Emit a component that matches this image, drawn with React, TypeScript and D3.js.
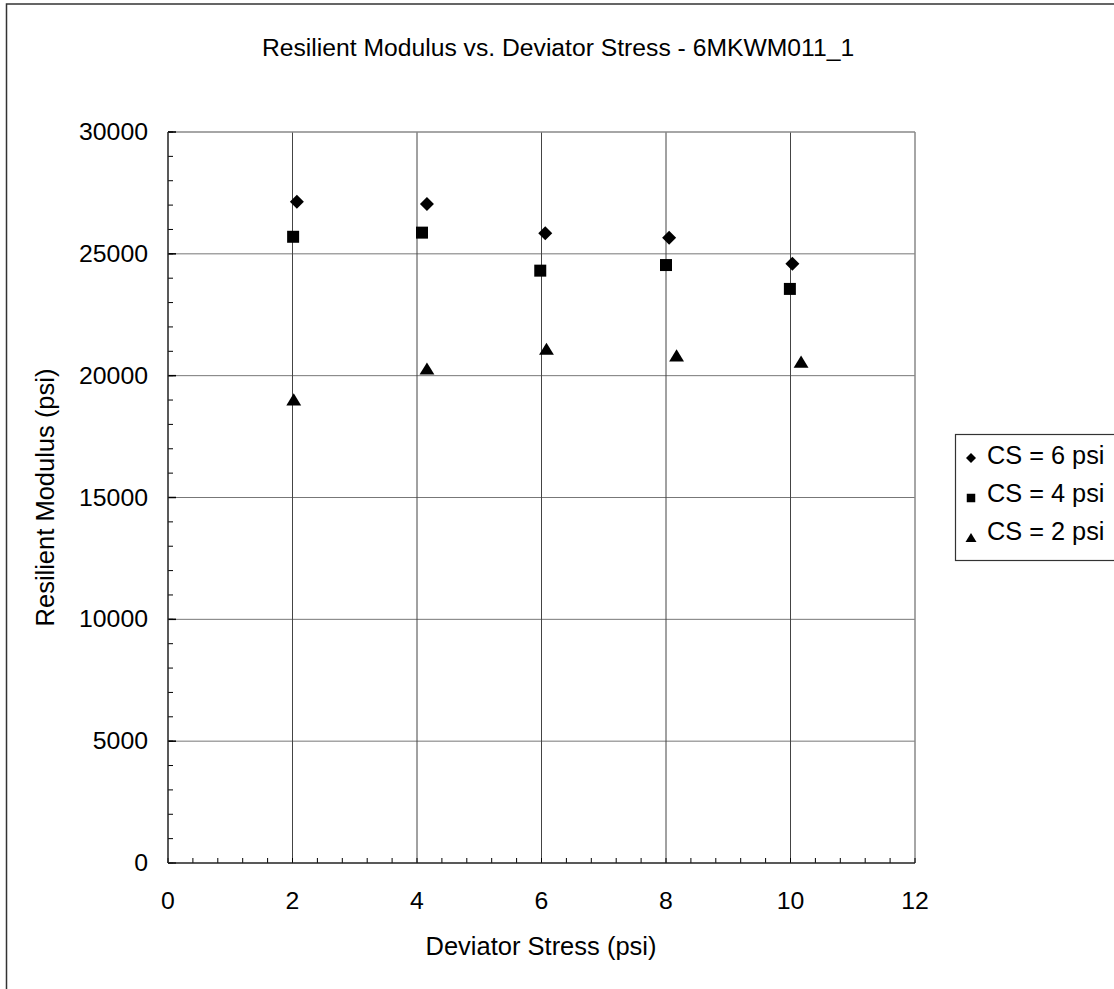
import React from "react";
import * as d3 from "d3";

const title = "Resilient Modulus vs. Deviator Stress - 6MKWM011_1";
const xLabel = "Deviator Stress (psi)";
const yLabel = "Resilient Modulus (psi)";
const xTicks = [0, 2, 4, 6, 8, 10, 12];
const yTicks = [0, 5000, 10000, 15000, 20000, 25000, 30000];

const seriesNames = ["CS = 6 psi", "CS = 4 psi", "CS = 2 psi"];
const cs6X = [2.07, 4.16, 6.06, 8.05, 10.03];
const cs6Y = [27140, 27045, 25840, 25660, 24595];
const cs4X = [2.01, 4.08, 5.98, 8.0, 9.99];
const cs4Y = [25700, 25870, 24310, 24540, 23560];
const cs2X = [2.02, 4.16, 6.08, 8.17, 10.17];
const cs2Y = [19000, 20270, 21080, 20810, 20550];

const W = 1114;
const H = 989;
const plot = { left: 168, right: 915, top: 132, bottom: 863 };
const FONT = "'Liberation Sans', Arial, sans-serif";

function markerPath(kind: string, size: number): string {
  const s = size / 2;
  if (kind === "diamond") return `M0,${-s}L${s},0L0,${s}L${-s},0Z`;
  if (kind === "square") return `M${-s},${-s}H${s}V${s}H${-s}Z`;
  const h = size * 0.9;
  return `M0,${-h * 0.55}L${s * 1.1},${h * 0.45}L${-s * 1.1},${h * 0.45}Z`;
}

export default function App() {
  const x = d3.scaleLinear().domain([0, 12]).range([plot.left, plot.right]);
  const y = d3.scaleLinear().domain([0, 30000]).range([plot.bottom, plot.top]);

  const series = [
    { name: seriesNames[0], xs: cs6X, ys: cs6Y, kind: "diamond", size: 14, lsize: 10 },
    { name: seriesNames[1], xs: cs4X, ys: cs4Y, kind: "square", size: 12, lsize: 8.5 },
    { name: seriesNames[2], xs: cs2X, ys: cs2Y, kind: "triangle", size: 13.5, lsize: 10 },
  ];

  const xMinor = d3.range(0, 12.001, 0.4);
  const yMinor = d3.range(0, 30001, 1000);

  return (
    <svg width={W} height={H} style={{ position: "absolute", left: 0, top: 0, background: "#fff" }}
      fontFamily={FONT}>
      <rect x={6.5} y={4} width={W + 20} height={H + 20} fill="#fff" stroke="#333" strokeWidth={1.5} />
      <text x={558} y={56} textAnchor="middle" fontSize={24.7} fill="#000">{title}</text>

      {/* grid */}
      {yTicks.filter((t) => t > 0 && t < 30000).map((t) => (
        <line key={"gy" + t} x1={plot.left} x2={plot.right} y1={y(t)} y2={y(t)} stroke="#777" strokeWidth={1} />
      ))}
      {xTicks.filter((t) => t > 0 && t < 12).map((t) => (
        <line key={"gx" + t} x1={x(t)} x2={x(t)} y1={plot.top} y2={plot.bottom} stroke="#444" strokeWidth={1} />
      ))}
      {/* top/right border */}
      <line x1={plot.left} x2={plot.right} y1={plot.top} y2={plot.top} stroke="#888" strokeWidth={1.5} />
      <line x1={plot.right} x2={plot.right} y1={plot.top} y2={plot.bottom} stroke="#888" strokeWidth={1.5} />

      {/* minor ticks */}
      {xMinor.map((t, i) => (
        <line key={"mx" + i} x1={x(t)} x2={x(t)} y1={plot.bottom} y2={plot.bottom - 5} stroke="#000" strokeWidth={1} />
      ))}
      {yMinor.map((t, i) => (
        <line key={"my" + i} x1={plot.left} x2={plot.left + 5} y1={y(t)} y2={y(t)} stroke="#000" strokeWidth={1} />
      ))}
      {yTicks.map((t) => (
        <line key={"My" + t} x1={plot.left} x2={plot.left + 8} y1={y(t)} y2={y(t)} stroke="#000" strokeWidth={1.5} />
      ))}
      {/* axes */}
      <line x1={plot.left} x2={plot.right} y1={plot.bottom} y2={plot.bottom} stroke="#222" strokeWidth={1.5} />
      <line x1={plot.left} x2={plot.left} y1={plot.top} y2={plot.bottom} stroke="#222" strokeWidth={1.5} />

      {/* tick labels */}
      {yTicks.map((t) => (
        <text key={"ly" + t} x={148} y={y(t) + 8} textAnchor="end" fontSize={24.8} fill="#000">{t}</text>
      ))}
      {xTicks.map((t) => (
        <text key={"lx" + t} x={x(t)} y={909} textAnchor="middle" fontSize={24.8} fill="#000">{t}</text>
      ))}

      <text x={541} y={955} textAnchor="middle" fontSize={25.5} fill="#000">{xLabel}</text>
      <text transform={`translate(53.5,${(plot.top + plot.bottom) / 2}) rotate(-90)`} textAnchor="middle"
        fontSize={25.5} fill="#000">{yLabel}</text>

      {/* points */}
      {series.map((s) => (
        <g key={s.name}>
          {s.xs.map((xv, i) => (
            <path key={i} d={markerPath(s.kind, s.size)} transform={`translate(${x(xv)},${y(s.ys[i])})`} fill="#000" />
          ))}
        </g>
      ))}

      {/* legend */}
      <rect x={955.5} y={434.5} width={200} height={126} fill="#fff" stroke="#333" strokeWidth={1.2} />
      {series.map((s, i) => (
        <g key={"lg" + s.name}>
          <path d={markerPath(s.kind, s.lsize)} transform={`translate(971,${458 + i * 40})`} fill="#000" />
          <text x={987} y={463.5 + i * 38.3} fontSize={25.3} fill="#000">{s.name}</text>
        </g>
      ))}
    </svg>
  );
}
